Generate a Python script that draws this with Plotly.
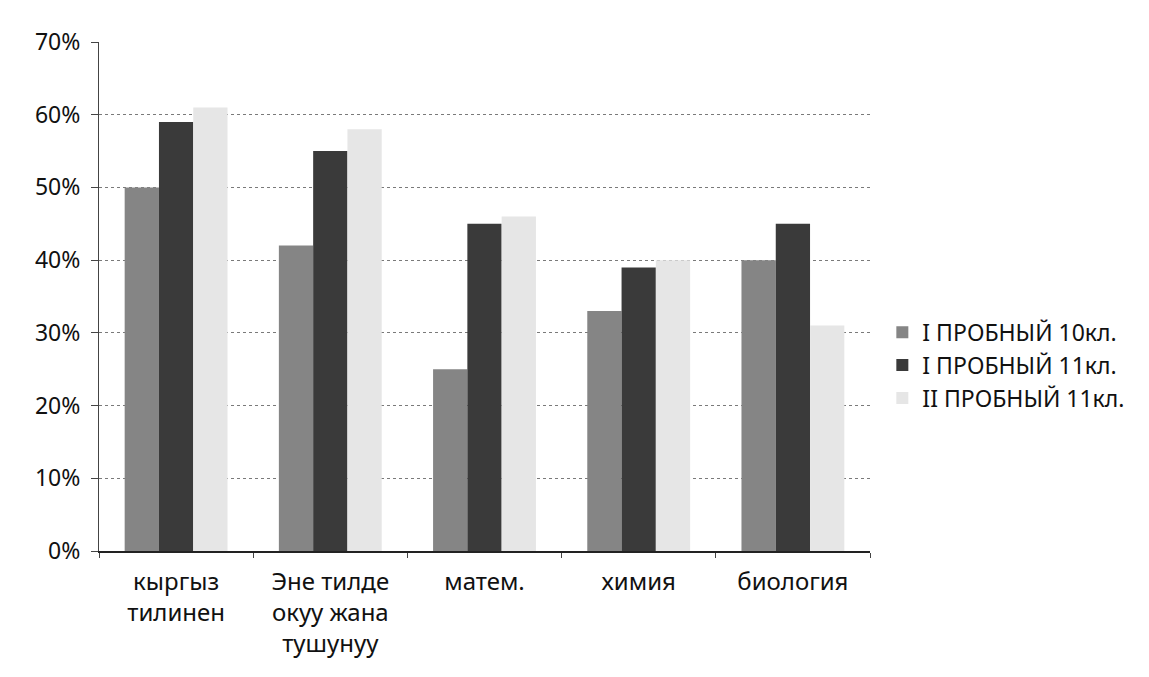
import plotly.graph_objects as go

categories = ["кыргыз<br>тилинен", "Эне тилде<br>окуу жана<br>тушунуу", "матем.", "химия", "биология"]
series_names = ["I ПРОБНЫЙ 10кл.", "I ПРОБНЫЙ 11кл.", "II ПРОБНЫЙ 11кл."]
s1_values = [0.50, 0.42, 0.25, 0.33, 0.40]
s2_values = [0.59, 0.55, 0.45, 0.39, 0.45]
s3_values = [0.61, 0.58, 0.46, 0.40, 0.31]
y_ticks = [0, 0.1, 0.2, 0.3, 0.4, 0.5, 0.6, 0.7]
colors = ["#858585", "#3a3a3a", "#e6e6e6"]

FONT = "Noto Sans, DejaVu Sans, sans-serif"

fig = go.Figure()
for name, vals, col in zip(series_names, [s1_values, s2_values, s3_values], colors):
    fig.add_trace(go.Bar(
        x=categories, y=vals, name=name, legendgroup=name,
        marker=dict(color=col, line=dict(width=0)),
    ))

fig.update_layout(
    width=1149, height=677,
    margin=dict(l=91, r=287, t=34, b=134, autoexpand=False),
    paper_bgcolor="white", plot_bgcolor="white",
    barmode="group", bargap=0.333, bargroupgap=0,
    font=dict(family=FONT, color="#111111"),
    legend=dict(
        x=1.016, y=0.365, xanchor="left", yanchor="middle",
        font=dict(size=23, family=FONT, color="#111111"),
        itemwidth=30, tracegroupgap=27, traceorder="normal",
    ),
    showlegend=True,
)
fig.update_yaxes(
    range=[0, 0.7], tickvals=y_ticks, tickformat=".0%", automargin=False,
    showgrid=True, gridcolor="#7a7a7a", griddash="dot", gridwidth=1,
    showline=True, linecolor="#444444", linewidth=1,
    ticks="outside", ticklen=7, tickcolor="#444444", ticklabelstandoff=6,
    tickfont=dict(size=23, family=FONT, color="#111111"),
    zeroline=False,
)
fig.update_xaxes(
    automargin=False,
    showline=True, linecolor="#222222", linewidth=1.5,
    ticks="outside", tickson="boundaries", ticklen=5, tickcolor="#444444",
    ticklabelstandoff=8,
    tickfont=dict(size=24, family=FONT, color="#111111"),
)

fig.write_html("out.html")
